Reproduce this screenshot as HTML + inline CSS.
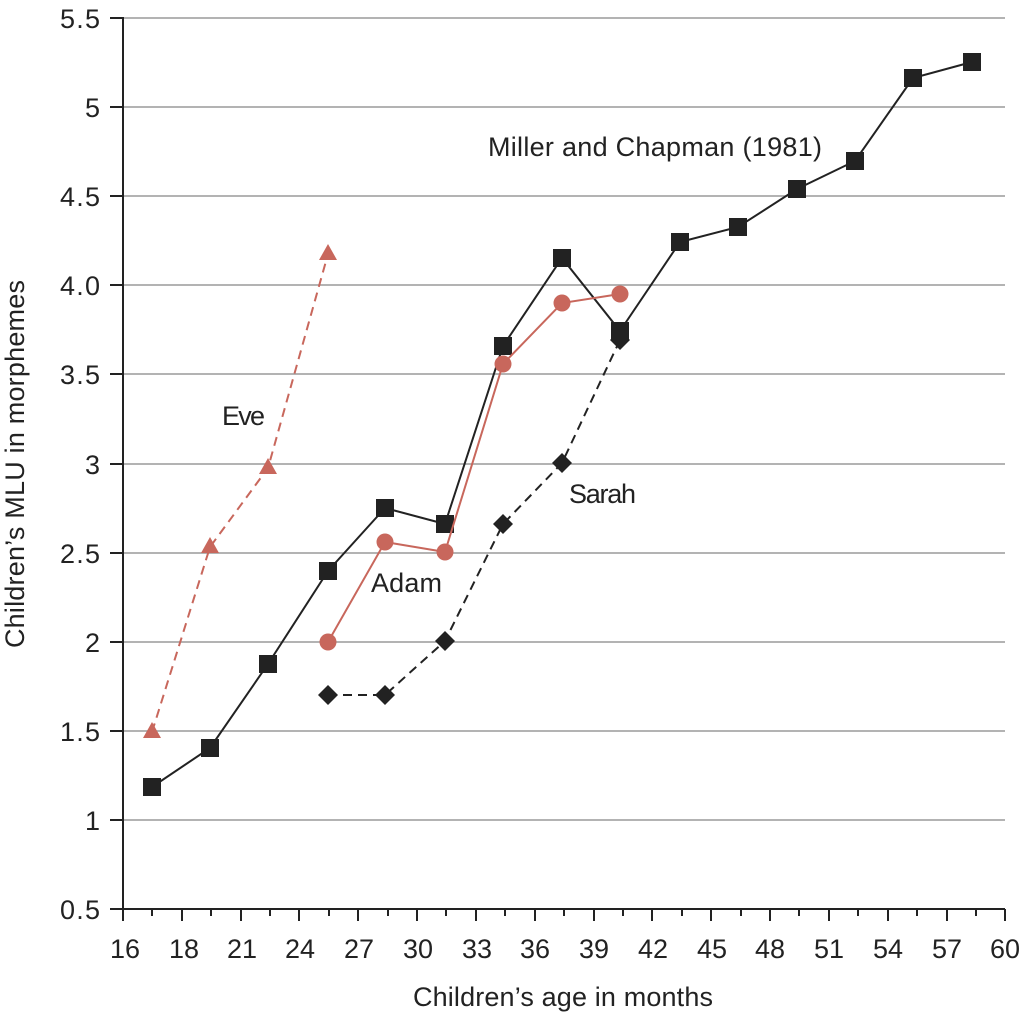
<!DOCTYPE html>
<html><head><style>body{margin:0;background:#fff}svg{display:block}text{font-family:"Liberation Sans",sans-serif;fill:#222}</style></head><body>
<svg width="1021" height="1017" viewBox="0 0 1021 1017">
<g stroke="#9a9a9a" stroke-width="1.5">
<line x1="123" y1="18" x2="1005" y2="18"/><line x1="123" y1="107" x2="1005" y2="107"/><line x1="123" y1="196" x2="1005" y2="196"/><line x1="123" y1="285" x2="1005" y2="285"/><line x1="123" y1="374" x2="1005" y2="374"/><line x1="123" y1="464" x2="1005" y2="464"/><line x1="123" y1="553" x2="1005" y2="553"/><line x1="123" y1="642" x2="1005" y2="642"/><line x1="123" y1="731" x2="1005" y2="731"/><line x1="123" y1="820" x2="1005" y2="820"/>
</g>
<g stroke="#222" stroke-width="2">
<line x1="123" y1="17" x2="123" y2="910"/><line x1="110" y1="909" x2="1005" y2="909"/>
<path d="M110 18H123M110 107H123M110 196H123M110 285H123M110 374H123M110 464H123M110 553H123M110 642H123M110 731H123M110 820H123"/>
<path d="M123 909v12M182 909v12M241 909v12M299 909v12M358 909v12M417 909v12M476 909v12M535 909v12M594 909v12M652 909v12M711 909v12M770 909v12M829 909v12M888 909v12M947 909v12M1005 909v12"/>
<path d="M152 909v7M211 909v7M270 909v7M329 909v7M388 909v7M446 909v7M505 909v7M564 909v7M623 909v7M682 909v7M741 909v7M799 909v7M858 909v7M917 909v7M976 909v7"/>
</g>
<g font-size="27" text-anchor="end">
<text x="100" y="28" textLength="40">5.5</text><text x="100" y="117">5</text><text x="100" y="206" textLength="40">4.5</text><text x="100" y="295" textLength="40">4.0</text><text x="100" y="384" textLength="40">3.5</text><text x="100" y="474">3</text><text x="100" y="563" textLength="40">2.5</text><text x="100" y="652">2</text><text x="100" y="741" textLength="40">1.5</text><text x="100" y="830">1</text><text x="100" y="919" textLength="40">0.5</text>
</g>
<g font-size="27" text-anchor="middle">
<text x="125" y="958">16</text><text x="184" y="958">18</text><text x="242" y="958">21</text><text x="300" y="958">24</text><text x="359" y="958">27</text><text x="418" y="958">30</text><text x="477" y="958">33</text><text x="535" y="958">36</text><text x="594" y="958">39</text><text x="653" y="958">42</text><text x="712" y="958">45</text><text x="770" y="958">48</text><text x="829" y="958">51</text><text x="888" y="958">54</text><text x="947" y="958">57</text><text x="1005" y="958">60</text>
</g>
<text x="413" y="1006" font-size="27" textLength="300">Children’s age in months</text>
<text transform="translate(24 648) rotate(-90)" font-size="27" textLength="368">Children’s MLU in morphemes</text>
<g font-size="27">
<text x="488" y="156" textLength="334">Miller and Chapman (1981)</text>
<text x="222" y="425" textLength="43">Eve</text>
<text x="569" y="503" textLength="67">Sarah</text>
<text x="371" y="592" textLength="71">Adam</text>
</g>
<polyline fill="none" stroke="#c8675c" stroke-width="2" stroke-dasharray="9,6" points="152,732 210,547 268,468 328,254"/>
<g fill="#c8675c"><path d="M152,722l9,16h-18z"/><path d="M210,537l9,16h-18z"/><path d="M268,458l9,16h-18z"/><path d="M328,244l9,16h-18z"/></g>
<polyline fill="none" stroke="#222" stroke-width="2" stroke-dasharray="9,6" points="328,695 385,695 445,641 503,524 562,463 620,340"/>
<g fill="#222"><path d="M328,685l10,10-10,10-10-10z"/><path d="M385,685l10,10-10,10-10-10z"/><path d="M445,631l10,10-10,10-10-10z"/><path d="M503,514l10,10-10,10-10-10z"/><path d="M562,453l10,10-10,10-10-10z"/><path d="M620,330l10,10-10,10-10-10z"/></g>
<polyline fill="none" stroke="#222" stroke-width="2" points="152,787 210,748 268,664 328,571 385,508 445,524 503,346 562,258 620,331 680,242 738,227 797,189 855,161 913,78 972,62"/>
<g fill="#222"><rect x="143" y="778" width="18" height="18"/><rect x="201" y="739" width="18" height="18"/><rect x="259" y="655" width="18" height="18"/><rect x="319" y="562" width="18" height="18"/><rect x="376" y="499" width="18" height="18"/><rect x="436" y="515" width="18" height="18"/><rect x="494" y="337" width="18" height="18"/><rect x="553" y="249" width="18" height="18"/><rect x="611" y="322" width="18" height="18"/><rect x="671" y="233" width="18" height="18"/><rect x="729" y="218" width="18" height="18"/><rect x="788" y="180" width="18" height="18"/><rect x="846" y="152" width="18" height="18"/><rect x="904" y="69" width="18" height="18"/><rect x="963" y="53" width="18" height="18"/></g>
<polyline fill="none" stroke="#c8675c" stroke-width="2" points="328,642 385,542 445,552 503,364 562,303 620,294"/>
<g fill="#c8675c"><circle cx="328" cy="642" r="8.5"/><circle cx="385" cy="542" r="8.5"/><circle cx="445" cy="552" r="8.5"/><circle cx="503" cy="364" r="8.5"/><circle cx="562" cy="303" r="8.5"/><circle cx="620" cy="294" r="8.5"/></g>
</svg>
</body></html>
